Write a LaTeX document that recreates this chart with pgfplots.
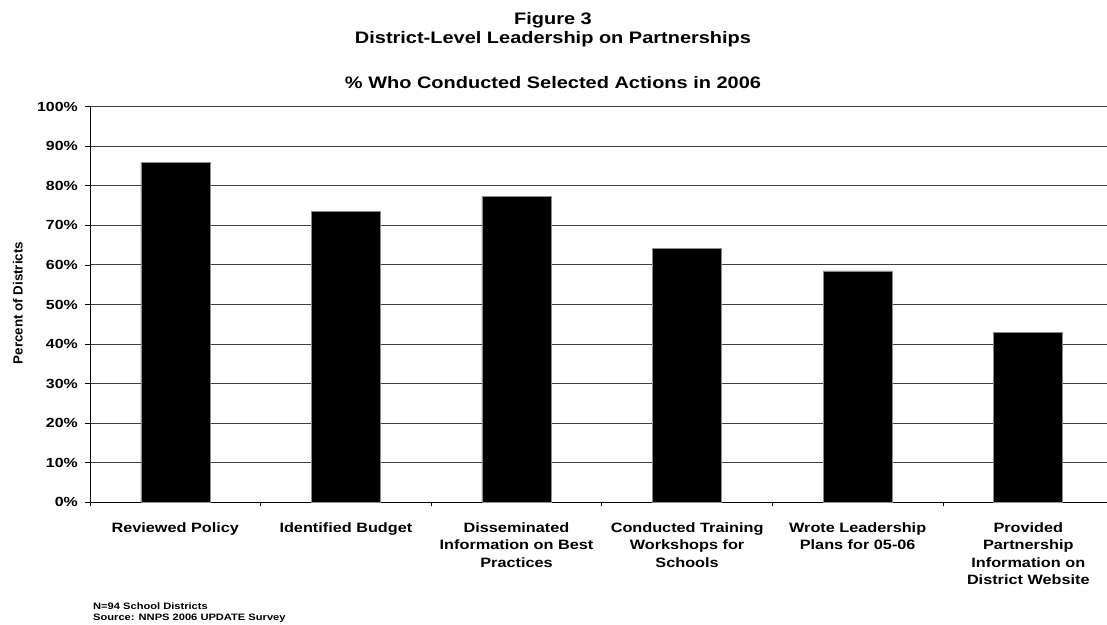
\documentclass[border=0pt]{standalone}
\usepackage{fontspec}
\setmainfont{Liberation Sans}[FakeStretch=1.2]
\newfontfamily\plainsans{Liberation Sans}
\usepackage{pgfplots}
\pgfplotsset{compat=1.18}
\newcommand\fs[2]{\fontsize{#1}{#2}\selectfont\bfseries}
\begin{document}
\begin{tikzpicture}[x=1bp,y=1bp]
\useasboundingbox (0,0) rectangle (1107,625);
\begin{axis}[
  at={(90bp,122.7bp)}, anchor=south west,
  scale only axis,
  width=1023.6bp, height=395.6bp,
  xmin=-0.5, xmax=5.5,
  ymin=0, ymax=100,
  axis lines*=left,
  axis line style={black, line width=1bp},
  ytick={0,10,...,100},
  ymajorgrids,
  grid style={black!75, line width=0.9bp},
  tick align=outside,
  tick style={black, line width=0.8bp},
  major tick length=5bp,
  yticklabel={\fs{13.3}{16}\pgfmathprintnumber{\tick}\%},
  /pgf/number format/assume math mode=true,
  yticklabel style={anchor=east, inner sep=0pt, xshift=-7bp},
  xtick={0,...,5},
  x tick style={draw=none},
  xticklabels={
    {Reviewed Policy},
    {Identified Budget},
    {Disseminated\\Information on Best\\Practices},
    {Conducted Training\\Workshops for\\Schools},
    {Wrote Leadership\\Plans for 05-06},
    {Provided\\Partnership\\Information on\\District Website}},
  xticklabel style={font=\fs{13.6}{17.5}, align=center, anchor=north, inner sep=0pt, yshift=-15bp},
  extra x ticks={-0.5,0.5,1.5,2.5,3.5,4.5},
  extra x tick labels={},
  extra x tick style={grid=none, major tick length=4bp, x tick style={draw=black, line width=0.8bp}},
  ybar,
  bar width=69bp,
  clip=false,
]
\addplot[fill=black, draw=black!45, line width=0.6bp] coordinates {
  (0,86.0) (1,73.6) (2,77.3) (3,64.2) (4,58.5) (5,43.0)};
\end{axis}
\node[anchor=base, inner sep=0pt, font=\fs{16.7}{20}] at (553,600.5) {Figure 3};
\node[anchor=base, inner sep=0pt, font=\fs{16.7}{20}] at (553,581.5) {District-Level Leadership on Partnerships};
\node[anchor=base, inner sep=0pt, font=\fs{16.7}{20}] at (553,536) {\% Who Conducted Selected Actions in 2006};
\node[rotate=90, inner sep=0pt, font=\plainsans\fontsize{13.4}{15}\selectfont\bfseries] at (17.8,322) {Percent of Districts};
\node[anchor=base west, inner sep=0pt, font=\fs{9.3}{11}] at (93,15) {N=94 School Districts};
\node[anchor=base west, inner sep=0pt, font=\fs{9.3}{11}] at (93,4.5) {Source: NNPS 2006 UPDATE Survey};
\end{tikzpicture}
\end{document}
